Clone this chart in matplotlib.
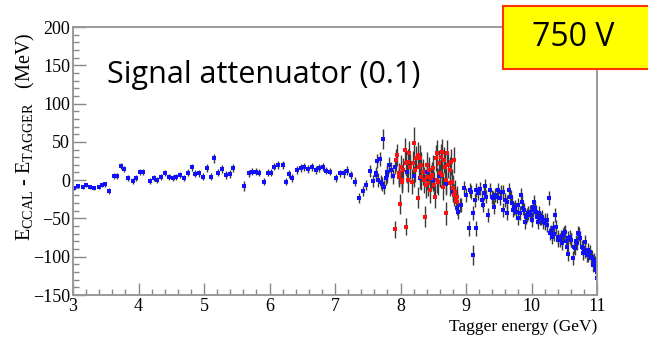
import matplotlib
matplotlib.use("Agg")
import matplotlib.pyplot as plt
from matplotlib.patches import Rectangle
from matplotlib.ticker import MultipleLocator

plt.rcParams['mathtext.fontset'] = 'custom'
plt.rcParams['mathtext.rm'] = 'Liberation Serif'
plt.rcParams['mathtext.it'] = 'Liberation Serif:italic'

# ---- data: blue series (segment 3 - 7.4 GeV)
blue_x_a = [3.02, 3.08, 3.15, 3.20, 3.26, 3.32, 3.39, 3.44, 3.49, 3.55,
            3.62, 3.67, 3.73, 3.78, 3.84, 3.91, 3.96, 4.02, 4.07, 4.18,
            4.24, 4.29, 4.34, 4.40, 4.47, 4.53, 4.58, 4.64, 4.69, 4.75,
            4.81, 4.87, 4.93, 4.99, 5.04, 5.10, 5.16, 5.22, 5.27, 5.33,
            5.40, 5.45, 5.61, 5.68, 5.73, 5.79, 5.84, 5.91, 5.97, 6.02,
            6.07, 6.13, 6.20, 6.25, 6.30, 6.35, 6.42, 6.48, 6.53, 6.59,
            6.65, 6.71, 6.76, 6.82, 6.87, 6.92, 7.02, 7.08, 7.13, 7.19,
            7.24, 7.31, 7.36]
blue_y_a = [-10.6, -7.6, -8.5, -6.3, -8.5, -10.6, -9.3, -6.3, -5.4, -14.1,
            5.5, 5.5, 18.5, 14.6, 2.4, -1.0, 2.4, 11.1, 11.1, -0.6,
            2.4, 0.0, 3.7, 9.8, 4.6, 2.4, 4.6, 6.8, 2.4, 9.8,
            16.8, 8.1, 8.8, 4.6, 15.5, 4.6, 28.6, 9.8, 14.6, 6.8,
            8.1, 15.5, -7.6, 8.8, 11.1, 11.1, 9.8, -1.9, 9.8, 9.8,
            17.6, 19.9, 19.9, -1.9, 8.1, 2.4, 13.3, 15.5, 16.8, 14.2,
            16.8, 13.3, 15.5, 16.8, 12.4, 11.1, 2.4, 8.8, 8.8, 12.4,
            6.8, -1.9, -23.7]
blue_e_a = [2, 2, 2.5, 2.5, 2.5, 2.5, 2.5, 3, 3, 3.5,
            3.5, 3.5, 4, 4, 4, 4, 4, 4, 4, 4,
            4, 4, 4, 4, 4, 4, 4, 4, 4, 4.5,
            4.5, 4.5, 4.5, 4.5, 5, 5, 5.7, 5, 5, 5,
            5, 5.5, 6, 5, 5, 5, 5, 5, 5, 5,
            5, 5.5, 5.5, 5, 5, 5, 5, 5, 5, 5,
            5, 5, 5, 5, 5, 5, 5, 5, 5.5, 5.5,
            5.5, 6, 6.5]

# ---- blue series (7.4 - 8.9 GeV)
blue_x_b = [7.42, 7.48, 7.53, 7.58, 7.62, 7.63, 7.64, 7.66, 7.69, 7.70,
            7.72, 7.74, 7.75, 7.78, 7.79, 7.80, 7.83, 7.86, 7.88, 7.92,
            7.97, 8.02, 8.10, 8.20, 8.30, 8.40, 8.50, 8.60, 8.70, 8.80]
blue_y_b = [-14.1, -6.3, 12.4, -1.1, 9.0, 6.8, 25.0, 0.0, 27.2, -2.0,
            -5.0, 53.3, -8.5, 3.0, 6.8, 10.0, 19.8, 13.3, 5.0, 17.6,
            4.6, 0.2, 10.0, 5.0, 3.0, 10.0, 0.0, 5.0, -5.0, -15.0]
blue_e_b = [7, 7, 8, 8, 8, 8, 9, 9, 9, 9,
            9, 13, 9, 9, 10, 10, 10, 10, 10, 10,
            11, 11, 14, 14, 14, 14, 14, 14, 14, 14]

# ---- blue series (8.85 - 11 GeV)
blue_x_c = [8.86, 8.88, 8.91, 8.93, 8.97, 9.00, 9.04, 9.06, 9.10, 9.14,
            9.15, 9.19, 9.24, 9.26, 9.30, 9.34, 9.37, 9.41, 9.44, 9.47,
            9.49, 9.52, 9.56, 9.60, 9.62, 9.65, 9.67, 9.70, 9.72, 9.75,
            9.77, 9.80, 9.82, 9.85, 9.87, 9.90, 9.93, 9.95, 9.98, 10.00,
            10.03, 10.05, 10.08, 10.10, 10.13, 10.155, 10.18, 10.21, 10.23, 10.26,
            10.28, 10.31, 10.33, 10.36, 10.38, 10.41, 10.43, 10.46, 10.49, 10.51,
            10.54, 10.56, 10.59, 10.61, 10.64, 10.66, 10.69, 10.71, 10.74, 10.77,
            10.79, 10.82, 10.84, 10.87, 10.89, 10.92, 10.94, 10.97, 10.99, 11.00]
blue_y_c = [-36.8, -41.1, -32.4, -32.4, -10.6, -19.4, -62.9, -12.8, -97.7, -25.9,
            -62.9, -17.2, -25.9, -32.4, -21.5, -45.5, -12.8, -23.7, -19.4, -21.5,
            -12.8, -23.7, -15.0, -25.9, -28.1, -12.8, -21.5, -30.2, -39.0, -34.6,
            -41.1, -49.8, -43.3, -28.1, -36.8, -54.2, -45.5, -43.3, -41.1, -52.0,
            -39.0, -36.8, -47.7, -54.2, -49.8, -47.7, -54.2, -52.0, -58.5, -23.7,
            -69.4, -73.8, -62.9, -45.5, -60.7, -73.8, -78.1, -82.5, -69.4, -67.2,
            -86.8, -76.0, -73.8, -78.1, -102.1, -89.0, -82.5, -69.4, -76.0, -86.8,
            -95.5, -80.3, -97.7, -91.2, -93.4, -99.9, -110.8, -108.6, -113.0, -119.5]
blue_e_c = [9, 9, 9, 9, 9, 9, 10, 9, 13, 9,
            10, 9, 9, 9, 9, 9, 9, 9, 9, 9,
            9, 9, 9, 9, 9, 9, 9, 9, 9, 9,
            9, 9, 9, 9, 9, 9, 9, 9, 9, 9,
            9, 9, 9, 9, 9, 9, 9, 9, 9, 9,
            9, 9, 9, 9, 9, 9, 9, 9, 9, 9,
            9, 9, 9, 9, 9, 9, 9, 9, 9, 9,
            9, 9, 9, 9, 9, 9, 9, 9, 9, 9]

# ---- second blue set (9 - 11 GeV)
blue_x_d = [9.07, 9.11, 9.16, 9.21, 9.27, 9.29, 9.39, 9.42, 9.54, 9.57,
            9.63, 9.69, 9.73, 9.79, 9.84, 9.88, 9.92, 9.99, 10.02, 10.04,
            10.07, 10.12, 10.15, 10.20, 10.24, 10.30, 10.34, 10.40, 10.45, 10.48,
            10.52, 10.55, 10.60, 10.65, 10.68, 10.73, 10.78, 10.81, 10.86, 10.91,
            10.96, 10.98, 10.995]
blue_y_d = [-15, -43, -13, -11, -17, -8, -22, -35, -15, -39,
            -43, -22, -37, -32, -19, -39, -48, -46, -35, -28,
            -41, -43, -50, -56, -52, -67, -70, -78, -74, -72,
            -80, -96, -78, -87, -80, -70, -89, -93, -98, -102,
            -104, -117, -128]
blue_e_d = [9, 9, 9, 9, 9, 9, 9, 9, 9, 9,
            9, 9, 9, 9, 9, 9, 9, 9, 9, 9,
            9, 9, 9, 9, 9, 9, 9, 9, 9, 9,
            9, 9, 9, 9, 9, 9, 9, 9, 9, 9,
            9, 9, 10]

# ---- red series (7.9 - 8.9 GeV)
red_x = [7.916, 7.93, 7.95, 7.97, 7.98, 7.99, 8.01, 8.02, 8.03, 8.04,
         8.07, 8.08, 8.09, 8.11, 8.12, 8.13, 8.15, 8.17, 8.19, 8.21,
         8.22, 8.24, 8.26, 8.27, 8.29, 8.30, 8.31, 8.32, 8.34, 8.36,
         8.37, 8.39, 8.40, 8.41, 8.42, 8.44, 8.45, 8.47, 8.48, 8.50,
         8.51, 8.53, 8.54, 8.55, 8.56, 8.58, 8.59, 8.60, 8.62, 8.63,
         8.64, 8.65, 8.66, 8.68, 8.69, 8.70, 8.71, 8.73, 8.75, 8.76,
         8.77, 8.78, 8.80, 8.81, 8.82, 8.83, 8.85, 8.86, 8.87]
red_y = [-64.2, 26.3, 32.9, 8.9, 4.6, -31.6, 17.6, -2.0, 0.2, 13.3,
         39.4, 22.0, -60.7, 0.2, 24.2, 35.1, 17.6, -2.0, 22.0, 49.0,
         13.3, 28.5, -22.8, 32.9, 17.6, 28.5, 4.6, 19.8, 11.1, 0.2,
         -47.7, -6.3, 4.6, 19.8, -4.1, 13.3, -12.8, 2.4, 6.8, 15.5,
         -6.3, -21.5, 28.5, 0.2, 35.1, -2.0, 22.0, 8.9, 30.7, 6.8,
         37.2, -8.5, 26.3, 17.6, 0.2, -43.3, 35.1, 19.8, 13.3, -4.1,
         24.2, -2.0, -10.7, 26.3, -19.4, -15.0, -25.9, -28.1, -21.5]
red_e = [11, 14, 14, 14, 14, 13, 15, 15, 15, 15,
         16, 16, 11, 16, 16, 16, 16, 16, 16, 20,
         16, 16, 14, 17, 17, 17, 17, 17, 17, 17,
         14, 17, 17, 17, 17, 17, 17, 17, 17, 17,
         17, 15, 17, 17, 17, 17, 17, 17, 17, 17,
         17, 17, 17, 17, 17, 15, 17, 17, 17, 17,
         17, 17, 17, 17, 15, 15, 14, 14, 14]

x_ticks = [3, 4, 5, 6, 7, 8, 9, 10, 11]
y_ticks = [-150, -100, -50, 0, 50, 100, 150, 200]

fig = plt.figure(figsize=(6.48, 3.41), dpi=100)
ax = fig.add_axes([73/648, 1-295/341, (597-73)/648, (295-27)/341])

ebkw = dict(fmt='s', markersize=2.2, elinewidth=1.0, capsize=1.6, capthick=0.9,
            ecolor='#3a3a3a', linestyle='none', markeredgewidth=0)
for xs, ys, es in [(blue_x_a, blue_y_a, blue_e_a), (blue_x_b, blue_y_b, blue_e_b),
                   (blue_x_c, blue_y_c, blue_e_c), (blue_x_d, blue_y_d, blue_e_d)]:
    ax.errorbar(xs, ys, yerr=es, color='#1010ff', **ebkw)
ax.errorbar(red_x, red_y, yerr=red_e, color='#ff1010', **ebkw)

ax.set_xlim(3, 11)
ax.set_ylim(-150, 200)
ax.set_xticks(x_ticks)
ax.set_yticks(y_ticks)
ax.set_xticklabels([str(v) for v in x_ticks])
ax.set_yticklabels([str(v).replace('-', '\u2212') for v in y_ticks])
ax.xaxis.set_minor_locator(MultipleLocator(0.2))
ax.yaxis.set_minor_locator(MultipleLocator(10))
ax.tick_params(which='both', direction='in', color='#888888', width=1.0,
               labelsize=13, labelfontfamily='Liberation Serif', pad=2)
ax.tick_params(which='major', length=9)
ax.tick_params(which='minor', length=4.5)
for s in ax.spines.values():
    s.set_color('#999999')
    s.set_linewidth(1.4)

ax.set_ylabel('E$_{\\mathrm{CCAL}}$ - E$_{\\mathrm{TAGGER}}$   (MeV)', fontsize=14.5,
              family='Liberation Serif')
ax.yaxis.set_label_coords(-0.068, 0.59)
ax.set_xlabel('Tagger energy (GeV)', fontsize=12.5, family='Liberation Serif')
ax.xaxis.set_label_coords(1.0, -0.09)
ax.xaxis.label.set_horizontalalignment('right')

fig.text(107/648, 1-75/341, 'Signal attenuator (0.1)', fontsize=22,
         family='Open Sans', va='center', ha='left')

fig.patches.append(Rectangle((503/648, 1-69/341), 0.3, 63/341, transform=fig.transFigure,
                             facecolor='#ffff00', edgecolor='#ff3300', linewidth=1.5,
                             zorder=5, figure=fig))
fig.text(573/648, 1-38/341, '750 V', fontsize=23, family='Open Sans',
         va='center', ha='center', zorder=6)

fig.savefig('out.png', dpi=100)
